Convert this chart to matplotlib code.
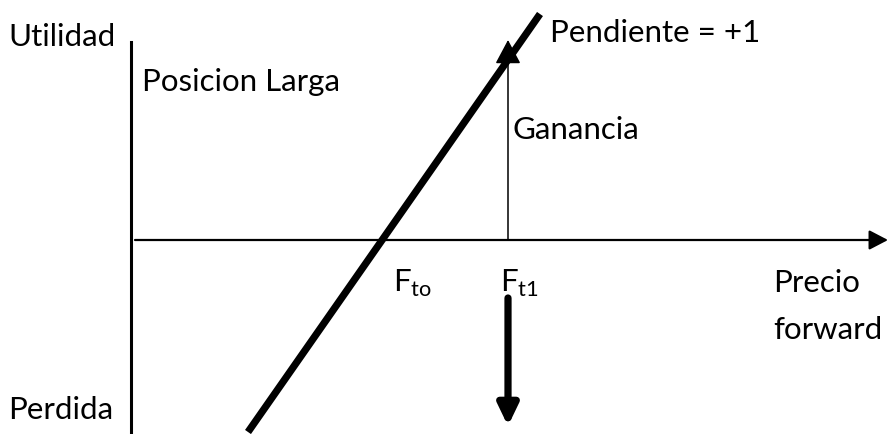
"""Long forward position payoff diagram (Posicion Larga)."""
import matplotlib
matplotlib.use("Agg")
import matplotlib.pyplot as plt

plt.rcParams.update({"font.family": ["Lato", "DejaVu Sans"], "mathtext.fontset": "custom",
                     "mathtext.rm": "Lato", "font.size": 22.5})

W, H = 889, 434
# diagram geometry (pixel units, y down)
y_axis_x, y_axis_top, y_axis_bot = 131, 42, 434
x_axis_y, x_axis_left, x_axis_right = 240, 135, 889
payoff_x = [248, 540]
payoff_y = [432, 14]
f_t0, f_t1 = 383, 508
gain_top = 40
loss_arrow = [298, 426]

labels = {
    "Utilidad": (8, 37), "Posicion Larga": (142, 82), "Pendiente = +1": (550, 33),
    "Ganancia": (513, 130), "Precio": (773, 283), "forward": (773, 330), "Perdida": (8, 410),
}

fig = plt.figure(figsize=(W / 100, H / 100), dpi=100)
ax = fig.add_axes([0, 0, 1, 1])
ax.set_xlim(0, W); ax.set_ylim(H, 0); ax.axis("off")

def arrow(x0, y0, x1, y1, style, lw):
    ax.annotate("", xy=(x1, y1), xytext=(x0, y0),
                arrowprops=dict(arrowstyle=style, color="black", lw=lw, shrinkA=0, shrinkB=0,
                                mutation_scale=10))

ax.plot([y_axis_x, y_axis_x], [y_axis_top, y_axis_bot], color="black", lw=2.2)
arrow(x_axis_left, x_axis_y, x_axis_right - 1, x_axis_y, "-|>,head_length=1.15,head_width=0.6", 1.6)
ax.plot(payoff_x, payoff_y, color="black", lw=5.2, solid_capstyle="butt")
arrow(f_t1, x_axis_y, f_t1, gain_top, "-|>,head_length=1.5,head_width=0.8", 1.1)
arrow(f_t1, loss_arrow[0], f_t1, loss_arrow[1], "-|>,head_length=1.25,head_width=0.6", 5.2)

for txt, (x, y) in labels.items():
    ax.text(x, y, txt, ha="left", va="center")
ax.text(f_t0 + 10, 283, r"F$_{\mathregular{to}}$", ha="left", va="center")
ax.text(f_t1 - 8, 283, r"F$_{\mathregular{t1}}$", ha="left", va="center")

fig.savefig("out.png", dpi=100)
